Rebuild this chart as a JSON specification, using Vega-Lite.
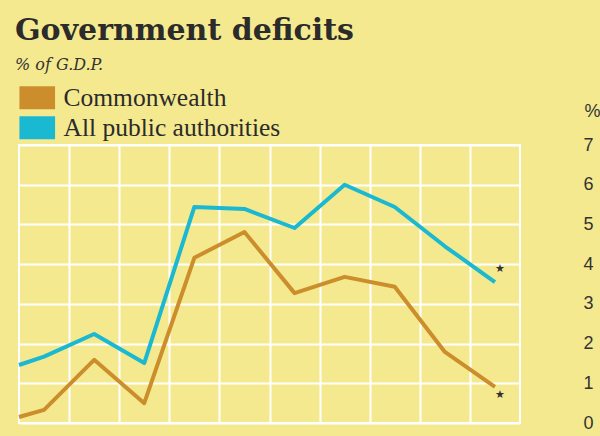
{
  "$schema": "https://vega.github.io/schema/vega-lite/v6.json",
  "autosize": "none",
  "width": 501,
  "height": 278,
  "padding": {"left": 19, "top": 145, "right": 80, "bottom": 13},
  "background": "#f4e98e",
  "title": {
    "text": "Government deficits",
    "subtitle": "% of G.D.P.",
    "anchor": "start",
    "frame": "group",
    "offset": 12,
    "dx": -4,
    "font": "DejaVu Serif",
    "fontSize": 30,
    "fontWeight": "bold",
    "color": "#2b2b2b",
    "subtitleFont": "DejaVu Serif",
    "subtitleFontStyle": "italic",
    "subtitleFontSize": 16,
    "subtitleColor": "#333333",
    "subtitlePadding": 11
  },
  "config": {
    "view": {"stroke": "#ffffff", "strokeWidth": 2},
    "axis": {"gridColor": "#ffffff", "gridWidth": 2, "gridOpacity": 1}
  },
  "datasets": {
    "series": [
      {"t": 0, "value": 1.46, "series": "All public authorities"},
      {"t": 0.5, "value": 1.67, "series": "All public authorities"},
      {"t": 1.5, "value": 2.24, "series": "All public authorities"},
      {"t": 2.5, "value": 1.51, "series": "All public authorities"},
      {"t": 3.5, "value": 5.44, "series": "All public authorities"},
      {"t": 4.5, "value": 5.39, "series": "All public authorities"},
      {"t": 5.5, "value": 4.91, "series": "All public authorities"},
      {"t": 6.5, "value": 6.0, "series": "All public authorities"},
      {"t": 7.5, "value": 5.44, "series": "All public authorities"},
      {"t": 8.5, "value": 4.45, "series": "All public authorities"},
      {"t": 9.5, "value": 3.55, "series": "All public authorities"},
      {"t": 0, "value": 0.15, "series": "Commonwealth"},
      {"t": 0.5, "value": 0.33, "series": "Commonwealth"},
      {"t": 1.5, "value": 1.59, "series": "Commonwealth"},
      {"t": 2.5, "value": 0.5, "series": "Commonwealth"},
      {"t": 3.5, "value": 4.16, "series": "Commonwealth"},
      {"t": 4.5, "value": 4.81, "series": "Commonwealth"},
      {"t": 5.5, "value": 3.27, "series": "Commonwealth"},
      {"t": 6.5, "value": 3.68, "series": "Commonwealth"},
      {"t": 7.5, "value": 3.43, "series": "Commonwealth"},
      {"t": 8.5, "value": 1.79, "series": "Commonwealth"},
      {"t": 9.5, "value": 0.91, "series": "Commonwealth"}
    ],
    "stars": [
      {"t": 9.6, "value": 3.88, "mark": "★"},
      {"t": 9.6, "value": 0.7, "mark": "★"}
    ]
  },
  "encoding": {
    "x": {
      "field": "t", "type": "quantitative",
      "scale": {"domain": [0, 10], "nice": false, "zero": false},
      "axis": {"values": [1, 2, 3, 4, 5, 6, 7, 8, 9], "labels": false, "ticks": false, "domain": false, "title": null, "grid": true}
    },
    "y": {
      "field": "value", "type": "quantitative",
      "scale": {"domain": [0, 7], "nice": false},
      "axis": {
        "orient": "right",
        "values": [0, 1, 2, 3, 4, 5, 6, 7],
        "labelOverlap": false,
        "domain": false,
        "ticks": false,
        "labelPadding": 63,
        "labelAlign": "left",
        "labelFont": "Liberation Sans",
        "labelFontSize": 18,
        "labelColor": "#333333",
        "title": "%",
        "titleAngle": 0,
        "titleX": 64,
        "titleY": -34,
        "titleAlign": "left",
        "titleBaseline": "middle",
        "titleFont": "Liberation Sans",
        "titleFontSize": 18,
        "titleFontWeight": "normal",
        "titleColor": "#333333"
      }
    }
  },
  "layer": [
    {
      "data": {"name": "series"},
      "mark": {"type": "line", "strokeWidth": 4, "strokeJoin": "round"},
      "encoding": {
        "color": {
          "field": "series", "type": "nominal",
          "scale": {"domain": ["Commonwealth", "All public authorities"], "range": ["#cc8e2c", "#1bb8d2"]},
          "legend": {
            "orient": "none",
            "legendX": 5.5,
            "legendY": -60,
            "title": null,
            "symbolType": "M-1.55,-1L1.55,-1L1.55,1L-1.55,1Z",
            "symbolSize": 529,
            "labelFont": "Liberation Serif",
            "labelFontSize": 25.5,
            "labelColor": "#2b2b2b",
            "labelOffset": 13.5,
            "labelLimit": 400,
            "rowPadding": 3,
            "encode": {
              "symbols": {"update": {"fill": {"scale": "color", "field": "value"}, "strokeWidth": {"value": 0}, "opacity": {"value": 1}}}
            }
          }
        }
      }
    },
    {
      "data": {"name": "stars"},
      "mark": {"type": "text", "font": "DejaVu Sans", "fontSize": 11, "color": "#333333"},
      "encoding": {
        "text": {"field": "mark"}
      }
    }
  ]
}
